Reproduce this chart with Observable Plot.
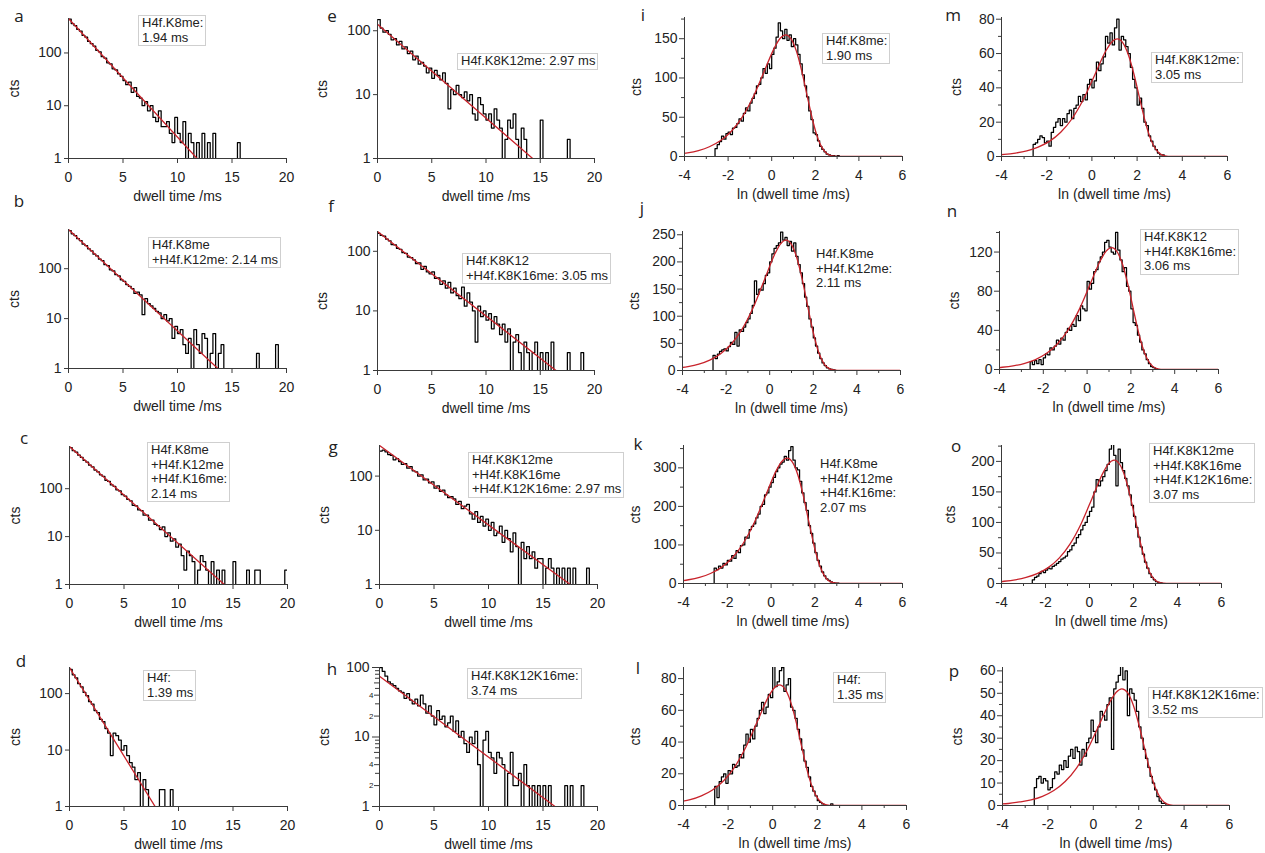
<!DOCTYPE html>
<html><head><meta charset="utf-8">
<script src="https://cdn.jsdelivr.net/npm/d3@7"></script>
<script src="https://cdn.jsdelivr.net/npm/@observablehq/plot@0.6"></script>
<style>
html,body{margin:0;padding:0;background:#fff;}
#chart{position:relative;width:1265px;height:853px;overflow:hidden;}
#chart svg{position:absolute;overflow:visible;}
.lbl{position:absolute;font-family:"Open Sans","Noto Sans",sans-serif;font-size:17px;color:#222;transform:translate(-50%,-50%);line-height:1;}
.leg{position:absolute;font-family:"Liberation Sans",Arial,sans-serif;font-size:13px;line-height:14.5px;color:#222;border:1px solid #cfcfcf;background:#fff;padding:0 2px 0 3px;white-space:nowrap;}
.leg.nobox{border-color:transparent;background:transparent;}
</style></head><body><div id="chart"></div>
<script>
// ---------------- data ----------------
const dwellTicks = [0, 5, 10, 15, 20];
const logTicks = [1, 10, 100];
const lnTicks = [-4, -2, 0, 2, 4, 6];
const lnMinorTicks = [-3, -1, 1, 3, 5];
const logBin = 0.25;           // ms per bin (log panels)
const lnStart = -2.6, lnBin = 0.1;

// dwell time histograms (counts per bin, starting at 0 ms)
const histA = [440,360,330,280,260,215,200,165,150,135, 112,105,85,80,65,62,50,48,40,36, 30,25,28,18,22,15,14,10,12,8, 10,6,5,8,4,4,5,3,2,6, 3,2,5,1,3,2,1,2,1,3, 1,2,0,3,0,1,0,0,0,0, 0,0,2,0,0,0,0,0,0,0, 0,0,0,0,0,0,0,0,0,0];
const histB = [580,500,460,400,365,310,290,250,228,195, 180,155,145,120,115,95,90,76,72,60, 56,48,44,40,32,34,30,12,25,20, 18,16,14,13,10,12,9,10,4,7, 5,6,3,2,4,1,6,3,2,5, 4,1,2,5,1,2,3,0,1,0, 0,0,0,0,0,0,0,0,0,2, 0,0,0,0,0,0,3,0,0,0];
const histC = [720,620,580,500,450,390,360,310,285,245, 225,195,180,150,142,120,112,95,90,75, 70,60,56,45,44,36,35,28,28,22, 22,18,17,14,16,10,12,8,9,6, 7,4,2,5,4,3,1,2,4,3, 2,1,3,1,2,1,2,0,1,1, 3,0,0,0,0,2,0,0,2,2, 0,0,0,0,0,0,0,0,0,2];
const histD = [270,215,190,150,132,105,92,72,65,50, 46,35,32,24,20,8,20,18,15,10, 12,8,6,5,3,4,1,3,2,1, 1,1,0,2,2,1,0,2,0,0, 0,0,0,1,0,1,0,0,0,0, 0,0,0,0,0,0,0,0,0,0, 0,0,0,0,0,1,0,0,0,0, 0,0,0,0,0,0,0,0,0,0];
const histE = [150,110,95,100,88,72,75,60,68,52, 56,44,48,35,40,30,32,28,22,26, 18,24,20,17,22,15,6,12,10,14, 10,9,11,8,10,5,4,9,7,5, 4,5,3,6,4,3,1,2,4,3, 5,2,1,3,2,1,1,0,1,0, 4,0,0,0,0,0,0,0,0,0, 2,0,0,0,0,0,0,0,0,0];
const histF = [200,185,180,160,150,130,128,112,108,95, 92,80,78,72,62,64,50,56,45,42, 45,35,36,28,32,24,30,20,24,18, 16,25,12,20,14,10,3,12,8,10, 7,9,5,8,6,4,6,3,5,1, 3,4,2,1,3,2,1,2,3,1, 2,1,2,1,3,1,0,0,0,0, 2,0,0,0,0,2,0,0,0,0];
const histG = [290,300,280,250,240,200,210,185,165,170, 140,150,125,120,100,105,85,88,75,78, 60,66,52,55,45,40,42,38,30,34, 25,28,30,20,16,22,14,18,12,16, 10,14,8,9,12,6,10,7,4,9, 5,1,6,3,5,3,4,2,3,3, 1,2,3,2,1,2,1,2,1,2, 0,2,0,0,0,0,2,0,0,0];
const histH = [100,88,75,62,58,55,50,46,44,36, 42,34,30,35,28,40,30,22,28,20, 15,24,18,20,14,16,20,12,17,10, 12,8,6,10,8,12,4,1,9,12, 6,5,3,6,5,4,1,3,6,2, 2,3,1,4,2,1,2,1,2,1, 2,1,2,1,1,0,1,0,2,1, 2,0,0,0,2,0,1,0,0,0];

// single-exponential fits on log axes: value at 0 ms and the dwell time where the fit reaches 1 count (a..h)
const logFitStart = [450, 610, 760, 290, 126, 215, 367, 75];
const logFitEnd = [11.8, 13.7, 14.2, 7.85, 14.3, 16.45, 17.5, 16.1];

// ln(dwell time) histograms (counts per bin, starting at ln = -2.6)
const histI = [10,15,19,26,22,29,31,28,36,37, 42,48,45,55,62,58,68,74,80,90, 92,100,112,106,118,112,130,138,152,170, 160,150,162,148,155,140,150,142,130,118, 104,90,76,58,47,30,28,20,13,9, 6,3,2,1,1,0,1,0,0,0, 0];
const histJ = [28,22,30,35,38,40,36,44,52,48, 70,45,75,72,80,88,95,105,120,165, 140,150,148,160,175,180,200,215,225,230, 235,255,240,245,230,238,220,235,210,195, 180,160,135,118,95,80,60,45,32,22, 14,9,5,3,2,1,0,0,0,0, 0];
const histK = [40,36,45,40,52,48,60,58,72,65, 85,80,98,100,120,118,140,148,155,170, 180,200,205,230,235,250,262,275,290,300, 310,315,330,320,345,355,320,300,295,265, 235,210,190,150,130,105,80,60,45,30, 20,12,8,4,2,1,1,0,0,0, 0];
const histL = [12,5,15,18,20,14,22,20,26,24, 25,32,30,38,45,40,48,42,50,55, 60,65,58,62,70,68,88,75,78,85, 87,72,76,80,62,60,55,48,42,35, 28,24,18,12,9,6,3,2,1,0, 0,0,1,0,0,0,0,0,0,0, 0];
const histM = [7,8,10,12,11,8,9,6,14,17, 20,22,18,22,20,25,27,22,28,30, 35,32,36,33,42,45,40,44,55,50, 54,58,70,66,72,65,75,80,62,70, 68,64,60,52,45,40,30,34,28,20, 18,12,9,6,4,2,1,1,0,0, 0];
const histN = [8,5,9,6,10,5,12,16,15,22, 20,24,30,26,32,30,38,42,40,46, 44,55,50,65,62,60,90,82,88,100, 102,110,115,120,130,132,125,120,118,140, 122,112,100,104,85,80,62,48,45,35, 28,20,16,10,6,3,2,1,0,0, 0];
const histO = [6,10,12,16,20,18,22,25,24,28, 30,33,36,40,42,45,52,55,62,66, 75,80,88,95,100,110,118,125,150,170, 160,168,175,185,195,220,228,210,160,220, 198,185,172,160,145,128,110,92,76,60, 48,35,25,16,10,6,3,2,1,0, 0];
const histP = [8,12,13,10,12,11,7,8,12,15, 14,18,16,20,17,22,25,21,26,24, 18,25,22,28,30,38,33,28,35,42, 40,38,45,48,25,52,55,58,62,56, 60,40,52,50,47,42,35,30,25,21, 17,13,10,7,4,2,1,1,0,0, 0];

// fit curves on ln axes, read as [ln(dwell time), cts]
const fitI = [[-4.86,1.7],[-4.36,2.8],[-3.86,4.6],[-3.36,7.6],[-2.86,12.4],[-2.36,20.0],[-1.86,31.9],[-1.36,49.8],[-0.86,75.2],[-0.36,107.3],[0.14,139.3],[0.39,150.6],[0.64,155],[0.89,149.8],[1.14,133.6],[1.39,107.4],[1.64,75.6],[1.89,44.9],[2.14,21.4],[2.39,7.7],[2.64,1.9],[2.89,0.3],[3.14,0],[6,0]];
const fitJ = [[-4.75,2.7],[-4.25,4.4],[-3.75,7.2],[-3.25,11.7],[-2.75,19.1],[-2.25,30.9],[-1.75,49.3],[-1.25,77.1],[-0.75,116.4],[-0.25,166.1],[0.25,215.8],[0.5,233.2],[0.75,240],[1.0,232],[1.25,206.8],[1.5,166.3],[1.75,117],[2.0,69.5],[2.25,33.1],[2.5,11.9],[2.75,3.0],[3.0,0.5],[3.25,0],[6,0]];
const fitK = [[-4.77,3.6],[-4.27,5.9],[-3.77,9.7],[-3.27,15.9],[-2.77,25.9],[-2.27,41.9],[-1.77,66.8],[-1.27,104.4],[-0.77,157.7],[-0.27,225],[0.23,292.2],[0.48,315.8],[0.73,325],[0.98,314.1],[1.23,280.1],[1.48,225.2],[1.73,158.5],[1.98,94.1],[2.23,44.8],[2.48,16.1],[2.73,4.0],[2.98,0.6],[3.23,0],[6,0]];
const fitL = [[-5.2,0.8],[-4.7,1.4],[-4.2,2.3],[-3.7,3.7],[-3.2,6.1],[-2.7,9.8],[-2.2,15.6],[-1.7,24.4],[-1.2,36.9],[-0.7,52.6],[-0.2,68.3],[0.05,73.8],[0.3,76],[0.55,73.5],[0.8,65.5],[1.05,52.7],[1.3,37.1],[1.55,22],[1.8,10.5],[2.05,3.8],[2.3,0.9],[2.55,0.1],[2.8,0],[6,0]];
const fitM = [[-4.38,0.8],[-3.88,1.2],[-3.38,2.0],[-2.88,3.3],[-2.38,5.5],[-1.88,8.8],[-1.38,14.1],[-0.88,22.0],[-0.38,33.2],[0.12,47.4],[0.62,61.6],[0.87,66.6],[1.12,68.5],[1.37,66.2],[1.62,59.0],[1.87,47.5],[2.12,33.4],[2.37,19.8],[2.62,9.4],[2.87,3.4],[3.12,0.8],[3.37,0.1],[3.62,0],[6,0]];
const fitN = [[-4.38,1.4],[-3.88,2.3],[-3.38,3.7],[-2.88,6.1],[-2.38,9.9],[-1.88,16.0],[-1.38,25.6],[-0.88,40.0],[-0.38,60.4],[0.12,86.2],[0.62,111.9],[0.87,121.0],[1.12,124.5],[1.37,120.3],[1.62,107.3],[1.87,86.3],[2.12,60.7],[2.37,36.0],[2.62,17.2],[2.87,6.2],[3.12,1.5],[3.37,0.2],[3.62,0],[6,0]];
const fitO = [[-4.38,2.2],[-3.88,3.7],[-3.38,6.0],[-2.88,9.9],[-2.38,16.1],[-1.88,26.0],[-1.38,41.5],[-0.88,64.9],[-0.38,98.0],[0.12,139.8],[0.62,181.6],[0.87,196.3],[1.12,202],[1.37,195.3],[1.62,174.1],[1.87,139.9],[2.12,98.5],[2.37,58.5],[2.62,27.8],[2.87,10.0],[3.12,2.5],[3.37,0.4],[3.62,0],[6,0]];
const fitP = [[-4.24,0.6],[-3.74,0.9],[-3.24,1.6],[-2.74,2.5],[-2.24,4.1],[-1.74,6.7],[-1.24,10.7],[-0.74,16.7],[-0.24,25.2],[0.26,36.0],[0.76,46.7],[1.01,50.5],[1.26,52],[1.51,50.3],[1.76,44.8],[2.01,36.0],[2.26,25.4],[2.51,15.0],[2.76,7.2],[3.01,2.6],[3.26,0.6],[3.51,0.1],[3.76,0],[6,0]];

// y tick values of the ln panels
const yTicksI = [0, 50, 100, 150], yMinorI = [25, 75, 125, 175];
const yTicksJ = [0, 50, 100, 150, 200, 250], yMinorJ = [25, 75, 125, 175, 225];
const yTicksK = [0, 100, 200, 300], yMinorK = [50, 150, 250, 350];
const yTicksL = [0, 20, 40, 60, 80], yMinorL = [10, 30, 50, 70];
const yTicksM = [0, 20, 40, 60, 80], yMinorM = [10, 30, 50, 70];
const yTicksN = [0, 40, 80, 120], yMinorN = [20, 60, 100, 140];
const yTicksO = [0, 50, 100, 150, 200], yMinorO = [25, 75, 125, 175, 225];
const yTicksP = [0, 10, 20, 30, 40, 50, 60], yMinorP = [5, 15, 25, 35, 45, 55];
const hMinorLabeled = [2, 4, 6, 20, 40, 60];
const hMinorPlain = [3, 5, 7, 8, 9, 30, 50, 70, 80, 90];

// legends
const legendA = ["H4f.K8me:", "1.94 ms"];
const legendB = ["H4f.K8me", "+H4f.K12me: 2.14 ms"];
const legendC = ["H4f.K8me", "+H4f.K12me", "+H4f.K16me:", "2.14 ms"];
const legendD = ["H4f:", "1.39 ms"];
const legendE = ["H4f.K8K12me: 2.97 ms"];
const legendF = ["H4f.K8K12", "+H4f.K8K16me: 3.05 ms"];
const legendG = ["H4f.K8K12me", "+H4f.K8K16me", "+H4f.K12K16me: 2.97 ms"];
const legendH = ["H4f.K8K12K16me:", "3.74 ms"];
const legendI = ["H4f.K8me:", "1.90 ms"];
const legendJ = ["H4f.K8me", "+H4f.K12me:", "2.11 ms"];
const legendK = ["H4f.K8me", "+H4f.K12me", "+H4f.K16me:", "2.07 ms"];
const legendL = ["H4f:", "1.35 ms"];
const legendM = ["H4f.K8K12me:", "3.05 ms"];
const legendN = ["H4f.K8K12", "+H4f.K8K16me:", "3.06 ms"];
const legendO = ["H4f.K8K12me", "+H4f.K8K16me", "+H4f.K12K16me:", "3.07 ms"];
const legendP = ["H4f.K8K12K16me:", "3.52 ms"];

// ---------------- layout ----------------
const panels = [
 {id:"a", kind:"log", hist:histA, fi:0, yMax:450, x0:68, x1:286, yTop:18, yBot:158, cts:59, lab:[19,15], leg:[138,15], legend:legendA},
 {id:"b", kind:"log", hist:histB, fi:1, yMax:610, x0:68, x1:286, yTop:229, yBot:368, cts:59, lab:[19,200], leg:[148,237], legend:legendB},
 {id:"c", kind:"log", hist:histC, fi:2, yMax:760, x0:69, x1:287, yTop:446, yBot:584, cts:59, lab:[24,437], leg:[147,442], legend:legendC},
 {id:"d", kind:"log", hist:histD, fi:3, yMax:290, x0:69, x1:287, yTop:667, yBot:806, cts:59, lab:[21,660], leg:[143,670], legend:legendD},
 {id:"e", kind:"log", hist:histE, fi:4, yMax:150, x0:377, x1:594, yTop:19, yBot:158, cts:60, lab:[332,15], leg:[457,53], legend:legendE},
 {id:"f", kind:"log", hist:histF, fi:5, yMax:215, x0:377, x1:594, yTop:231, yBot:370, cts:60, lab:[331,205], leg:[462,253], legend:legendF},
 {id:"g", kind:"log", hist:histG, fi:6, yMax:367, x0:379, x1:597, yTop:445, yBot:584, cts:60, lab:[333,446], leg:[468,452], legend:legendG},
 {id:"h", kind:"log", hist:histH, fi:7, yMax:100, x0:379, x1:597, yTop:667, yBot:806, cts:60, lab:[332,668], leg:[467,668], legend:legendH},
 {id:"i", kind:"ln", hist:histI, fit:fitI, yMax:177, yt:yTicksI, ym:yMinorI, x0:684, x1:902, yTop:17, yBot:156, cts:53, lab:[643,14], leg:[822,33], legend:legendI},
 {id:"j", kind:"ln", hist:histJ, fit:fitJ, yMax:256, yt:yTicksJ, ym:yMinorJ, x0:682, x1:900, yTop:231, yBot:370, cts:53, lab:[642,207], leg:[812,246], legend:legendJ, nobox:true},
 {id:"k", kind:"ln", hist:histK, fit:fitK, yMax:358, yt:yTicksK, ym:yMinorK, x0:683, x1:902, yTop:445, yBot:583, cts:53, lab:[638,443], leg:[816,456], legend:legendK, nobox:true},
 {id:"l", kind:"ln", hist:histL, fit:fitL, yMax:87, yt:yTicksL, ym:yMinorL, x0:683, x1:906, yTop:667, yBot:805, cts:53, lab:[638,667], leg:[833,672], legend:legendL},
 {id:"m", kind:"ln", hist:histM, fit:fitM, yMax:81, yt:yTicksM, ym:yMinorM, x0:1001, x1:1227, yTop:17, yBot:156, cts:50, lab:[953,14], leg:[1151,52], legend:legendM},
 {id:"n", kind:"ln", hist:histN, fit:fitN, yMax:141, yt:yTicksN, ym:yMinorN, x0:999, x1:1218, yTop:231, yBot:369, cts:50, lab:[952,210], leg:[1140,229], legend:legendN},
 {id:"o", kind:"ln", hist:histO, fit:fitO, yMax:226, yt:yTicksO, ym:yMinorO, x0:1001, x1:1221, yTop:445, yBot:583, cts:56, lab:[956,445], leg:[1149,443], legend:legendO},
 {id:"p", kind:"ln", hist:histP, fit:fitP, yMax:61.5, yt:yTicksP, ym:yMinorP, x0:1002, x1:1229, yTop:667, yBot:805, cts:50, lab:[954,670], leg:[1148,687], legend:legendP}
];

const RED = "#c8232b", AX = "#3a3a3a";
const ML = 70, MR = 20, MT = 10, MB = 50;
const fmt = d => String(d);   // plain hyphen-minus like the original
const chart = document.getElementById("chart");

for (const p of panels) {
  const w = p.x1 - p.x0, h = p.yBot - p.yTop;
  let marks, x, y;
  if (p.kind === "log") {
    const pts = p.hist.map((c, i) => ({x: i * logBin, y: Math.max(c, 1)}));
    pts.push({x: p.hist.length * logBin, y: Math.max(p.hist[p.hist.length - 1], 1)});
    const fit = [{x: 0, y: logFitStart[p.fi]}, {x: logFitEnd[p.fi], y: 1}];
    x = {domain: [0, 20]};
    y = {type: "log", domain: [1, p.yMax]};
    marks = [
      Plot.line(pts, {x: "x", y: "y", curve: "step-after", stroke: "#000", strokeWidth: 1.25, clip: true}),
      Plot.line(fit, {x: "x", y: "y", stroke: RED, strokeWidth: 1.3, clip: true}),
      Plot.axisX({ticks: dwellTicks, tickFormat: fmt, tickSize: 5, tickPadding: 9, stroke: AX, label: "dwell time /ms", labelAnchor: "center", labelOffset: 42, labelArrow: "none"}),
      Plot.axisY({ticks: logTicks, tickFormat: fmt, tickSize: p.id === "h" ? 7 : 4, tickPadding: 3, stroke: AX, label: "cts", labelAnchor: "center", labelOffset: p.cts, labelArrow: "none"})
    ];
    if (p.id === "h") {
      marks.push(Plot.axisY({ticks: hMinorLabeled, tickFormat: d => String(d)[0], tickSize: 5, tickPadding: 1, fontSize: 8, stroke: AX, label: null}));
      marks.push(Plot.axisY({ticks: hMinorPlain, tickFormat: () => "", tickSize: 4, stroke: AX, label: null}));
    }
    marks.push(Plot.ruleX([0], {stroke: AX}), Plot.ruleY([1], {stroke: AX}));
  } else {
    const pts = [{x: -4, y: 0}].concat(p.hist.map((c, i) => ({x: lnStart + i * lnBin, y: c})));
    pts.push({x: lnStart + p.hist.length * lnBin, y: 0}, {x: 6, y: 0});
    const fit = p.fit.map(([a, b]) => ({x: a, y: b}));
    x = {domain: [-4, 6]};
    y = {domain: [0, p.yMax]};
    marks = [
      Plot.line(pts, {x: "x", y: "y", curve: "step-after", stroke: "#000", strokeWidth: 1.25, clip: true}),
      Plot.line(fit, {x: "x", y: "y", curve: "monotone-x", stroke: RED, strokeWidth: 1.3, clip: true}),
      Plot.axisX({ticks: lnTicks, tickFormat: fmt, tickSize: 5, tickPadding: 9, stroke: AX, label: "ln (dwell time /ms)", labelAnchor: "center", labelOffset: 42, labelArrow: "none"}),
      Plot.axisX({ticks: lnMinorTicks, tickFormat: () => "", tickSize: 3, stroke: AX, label: null}),
      Plot.axisY({ticks: p.yt, tickFormat: fmt, tickSize: 5, tickPadding: 2, stroke: AX, label: "cts", labelAnchor: "center", labelOffset: p.cts, labelArrow: "none"}),
      Plot.axisY({ticks: p.ym, tickFormat: () => "", tickSize: 3, stroke: AX, label: null}),
      Plot.ruleX([-4], {stroke: AX}),
      Plot.ruleY([0], {stroke: AX})
    ];
  }
  const svg = Plot.plot({
    width: w + ML + MR, height: h + MT + MB,
    marginLeft: ML, marginRight: MR, marginTop: MT, marginBottom: MB,
    style: {fontFamily: "'Liberation Sans', Arial, sans-serif", fontSize: "14px", color: "#222", background: "transparent"},
    x, y, marks
  });
  svg.style.left = (p.x0 - ML) + "px";
  svg.style.top = (p.yTop - MT) + "px";
  chart.appendChild(svg);

  const lab = document.createElement("div");
  lab.className = "lbl";
  lab.textContent = p.id;
  lab.style.left = p.lab[0] + "px";
  lab.style.top = p.lab[1] + "px";
  chart.appendChild(lab);

  const leg = document.createElement("div");
  leg.className = "leg" + (p.nobox ? " nobox" : "");
  leg.style.left = p.leg[0] + "px";
  leg.style.top = p.leg[1] + "px";
  leg.innerHTML = p.legend.map(s => s.replace(/&/g, "&amp;").replace(/</g, "&lt;")).join("<br>");
  chart.appendChild(leg);
}
</script></body></html>
